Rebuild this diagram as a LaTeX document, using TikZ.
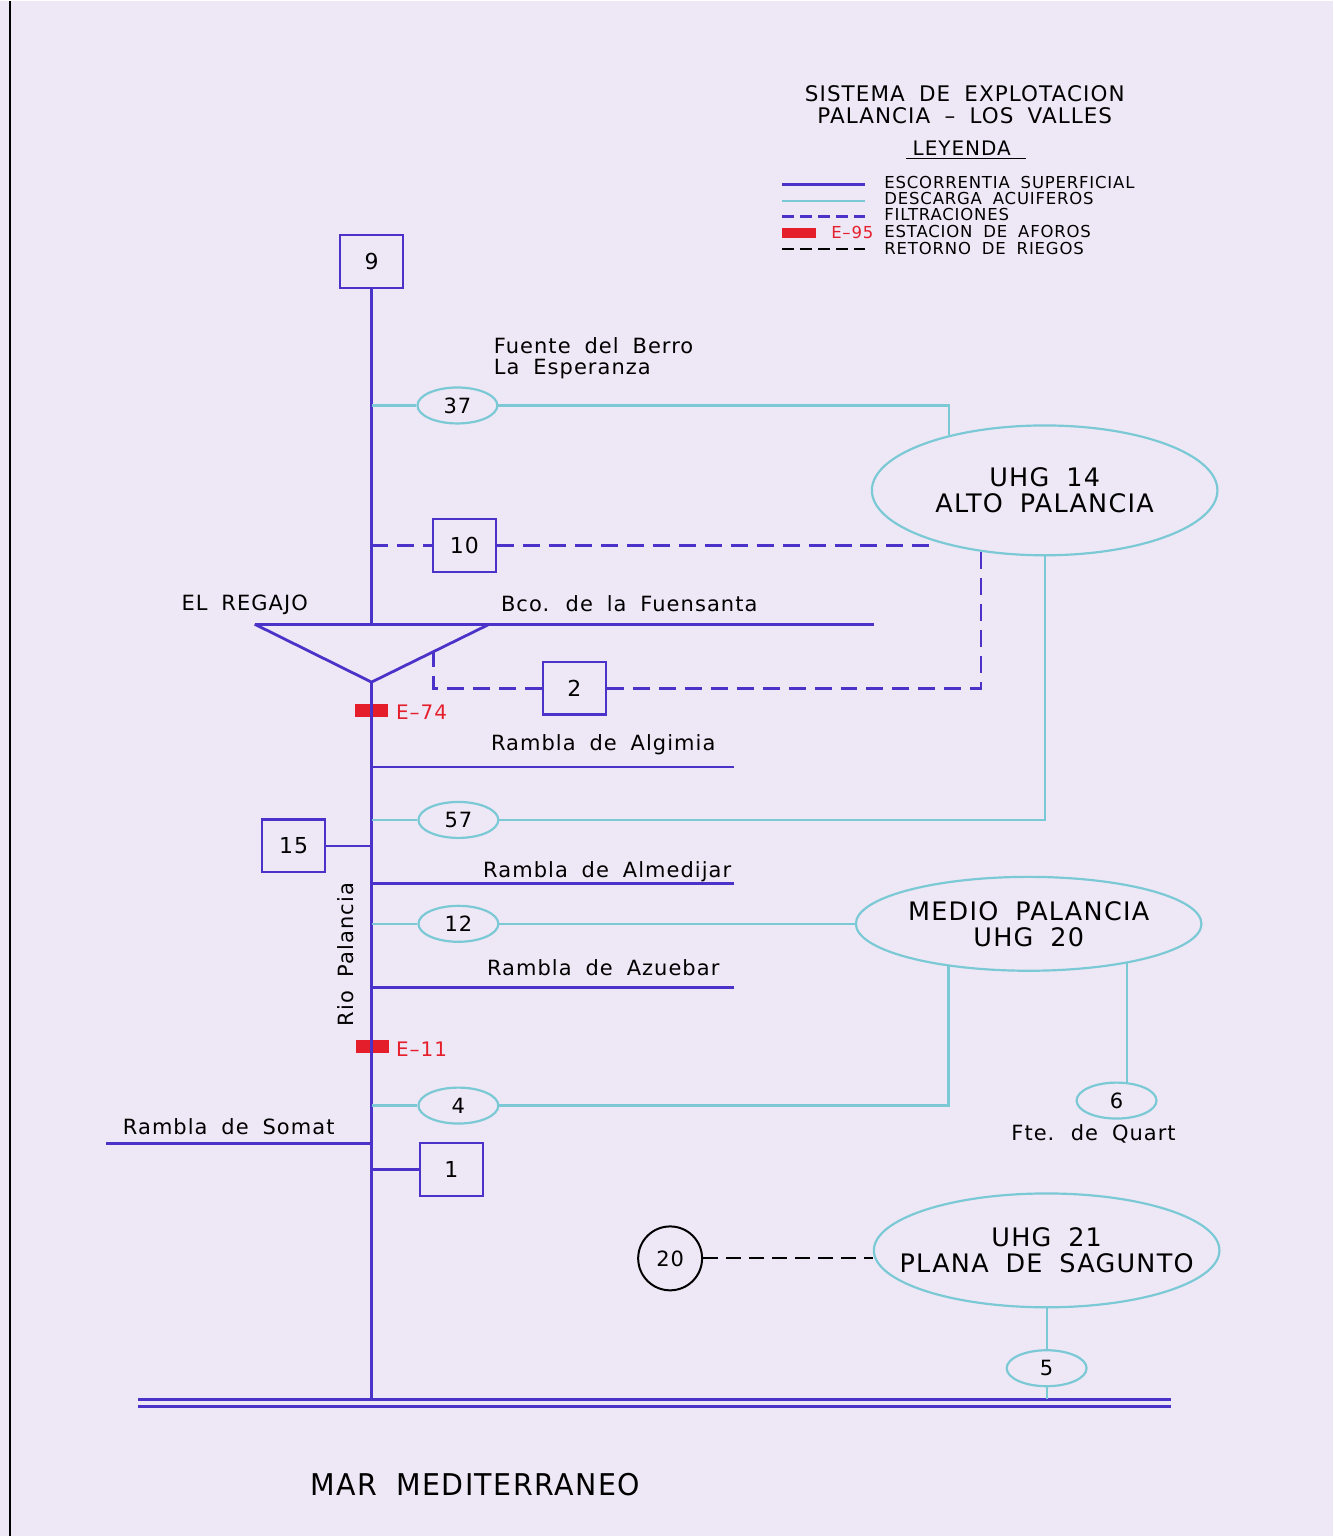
\documentclass[tikz,border=0pt]{standalone}
\usepackage{fontspec}
\setmainfont{DejaVu Sans}[WordSpace=1.8, LetterSpace=5]
\usetikzlibrary{shapes.geometric}

\definecolor{riocol}{HTML}{4B33C9}
\definecolor{acucol}{HTML}{7CC9D6}
\definecolor{fondo}{HTML}{EEE8F6}
\definecolor{rojo}{HTML}{E51E2B}

\begin{document}
\begin{tikzpicture}[x=1pt, y=-1pt,
  every node/.style={font=\fontsize{21}{24}\selectfont},
  rio/.style={draw=riocol, line width=2.8pt},
  acu/.style={draw=acucol, line width=2.2pt},
  filt/.style={draw=riocol, line width=2.8pt, dash pattern=on 17pt off 9pt},
  ret/.style={draw=black, line width=1.8pt, dash pattern=on 15pt off 8pt},
  caja/.style={draw=riocol, line width=2.2pt, minimum width=63pt, minimum height=53pt, inner sep=0pt,
    font=\fontsize{22}{24}\selectfont},
  pozo/.style={ellipse, draw=acucol, line width=2.2pt, minimum width=80pt, minimum height=36pt, inner sep=0pt},
  uhg/.style={ellipse, draw=acucol, line width=2.2pt, minimum width=346pt, inner sep=0pt,
    label={[align=center, font=\fontsize{25.5}{26}\selectfont]center:#1}},
  aforo/.style={fill=rojo, minimum width=34pt, minimum height=13pt, inner sep=0pt},
  ley/.style={anchor=west, font=\fontsize{16.5}{17}\selectfont}]

  \fill[fondo] (0,0) rectangle (1335,1537);
  \draw[line width=2pt] (10,0) -- (10,1537);

  % titulo y leyenda
  \node[align=center, font=\fontsize{21.5}{22}\selectfont] (titulo) at (966,104)
    {SISTEMA DE EXPLOTACION\\PALANCIA -- LOS VALLES};
  \node[font=\fontsize{20}{22}\selectfont] (leyenda) at (963,147) {LEYENDA};
  \draw[line width=1.4pt] ([xshift=-3pt]leyenda.south west) -- ([xshift=12pt]leyenda.south east);

  \draw[rio] (783,184) -- (866,184);
  \draw[acu] (783,200) -- (866,200);
  \draw[filt, dash pattern=on 12pt off 6pt] (783,216) -- (866,216);
  \fill[rojo] (783,227) rectangle (817,237);
  \draw[ret, dash pattern=on 12pt off 6pt] (783,248) -- (866,248);
  \node[ley] at (882,182) {ESCORRENTIA SUPERFICIAL};
  \node[ley] at (882,198) {DESCARGA ACUIFEROS};
  \node[ley] at (882,214) {FILTRACIONES};
  \node[ley, text=rojo, anchor=east] at (878,232) {E--95};
  \node[ley] at (882,231) {ESTACION DE AFOROS};
  \node[ley] at (882,248) {RETORNO DE RIEGOS};

  % nudos
  \node[caja] (b9) at (372,261) {9};
  \node[pozo] (p37) at (458,405) {37};
  \node[uhg={UHG 14\\ALTO PALANCIA}, minimum height=130pt] (u14) at (1046,490) {};
  \node[caja] (b10) at (465,545) {10};
  \node[caja] (b2) at (575,688) {2};
  \node[pozo] (p57) at (459,820) {57};
  \node[caja] (b15) at (294,846) {15};
  \node[pozo] (p12) at (459,924) {12};
  \node[uhg={MEDIO PALANCIA\\UHG 20}, minimum height=94pt] (u20) at (1030,924) {};
  \node[pozo] (p4) at (459,1106) {4};
  \node[pozo] (p6) at (1118,1101) {6};
  \node[caja] (b1) at (452,1170) {1};
  \node[circle, draw, line width=2pt, minimum size=64pt, inner sep=0pt] (p20) at (671,1259) {20};
  \node[uhg={UHG 21\\PLANA DE SAGUNTO}, minimum height=114pt] (u21) at (1048,1251) {};
  \node[pozo] (p5) at (1048,1369) {5};

  \node[aforo] (e74) at (372,710) {};
  \node[anchor=west, text=rojo, font=\fontsize{20}{22}\selectfont] (e74t) at (393,712) {E--74};
  \node[aforo] (e11) at (373,1047) {};
  \node[anchor=west, text=rojo, font=\fontsize{20}{22}\selectfont] (e11t) at (393,1050) {E--11};

  % embalse de El Regajo
  \coordinate (tl) at (255,624);
  \coordinate (tr) at (490,624);
  \coordinate (tv) at (372,682);
  \coordinate (tq) at (434,651.5);
  \coordinate (fuen) at (875,624);

  % ramblas y mar
  \coordinate (alg) at (735,767);
  \coordinate (alm) at (735,884);
  \coordinate (azu) at (735,988);
  \coordinate (som) at (106,1144);
  \coordinate (mar) at (372,1400);
  \coordinate (m1) at (138,1400);
  \coordinate (m2) at (1173,1400);
  \coordinate (m3) at (138,1407);
  \coordinate (m4) at (1173,1407);

  % rio Palancia
  \draw[rio] (b9.south) -- (b9 |- tl);
  \draw[rio] (tl) -- (fuen);
  \draw[rio] (tl) -- (tv) -- (tr);
  \draw[rio] (tv) -- (mar);
  \draw[rio] (b9 |- alg) -- (alg);
  \draw[rio] (b9 |- alm) -- (alm);
  \draw[rio] (b9 |- azu) -- (azu);
  \draw[rio] (som) -- (b9 |- som);
  \draw[rio] (b15.east) -- (b9 |- b15);
  \draw[rio] (b9 |- b1) -- (b1.west);
  \draw[rio] (m1) -- (m2);
  \draw[rio] (m3) -- (m4);

  % descargas de acuiferos
  \draw[acu] (b9 |- p37) -- (p37.west);
  \draw[acu] (p37.east) -| (u14.150);
  \draw[acu] (b9 |- p57) -- (p57.west);
  \draw[acu] (p57.east) -| (u14.south);
  \draw[acu] (b9 |- p12) -- (p12.west);
  \draw[acu] (p12.east) -- (u20.west);
  \draw[acu] (b9 |- p4) -- (p4.west);
  \draw[acu] (p4.east) -| (u20.208);
  \draw[acu] (u20.338) -- (u20.338 |- p6.north);
  \draw[acu] (u21.south) -- (p5.north);
  \draw[acu] (p5.south) -- (p5 |- mar);

  % filtraciones y retornos
  \draw[filt] (b9 |- b10) -- (b10.west);
  \draw[filt] (b10.east) -- (b10.east -| u14.205);
  \draw[filt] (b2.east) -| (u14.224);
  \draw[filt] (b2.west) -| (tq);
  \draw[ret] (p20.east) -- (p20.east -| u21.west);

  % rotulos
  \node[anchor=west, align=left, font=\fontsize{21}{21}\selectfont] (berro) at (491,358)
    {Fuente del Berro\\La Esperanza};
  \node (regajo) at (245,605) {EL REGAJO};
  \node (fuent) at (630,603) {Bco. de la Fuensanta};
  \node (algt) at (604,745) {Rambla de Algimia};
  \node (almt) at (608,872) {Rambla de Almedijar};
  \node (azut) at (604,968) {Rambla de Azuebar};
  \node (somt) at (229,1127) {Rambla de Somat};
  \node (quart) at (1095,1134) {Fte. de Quart};
  \node[rotate=90] (riot) at (346,955) {Rio Palancia};
  \node[font=\fontsize{30}{32}\selectfont] (mart) at (476,1486)
    {\scalebox{0.95}[1]{MAR MEDITERRANEO}};
\end{tikzpicture}
\end{document}
